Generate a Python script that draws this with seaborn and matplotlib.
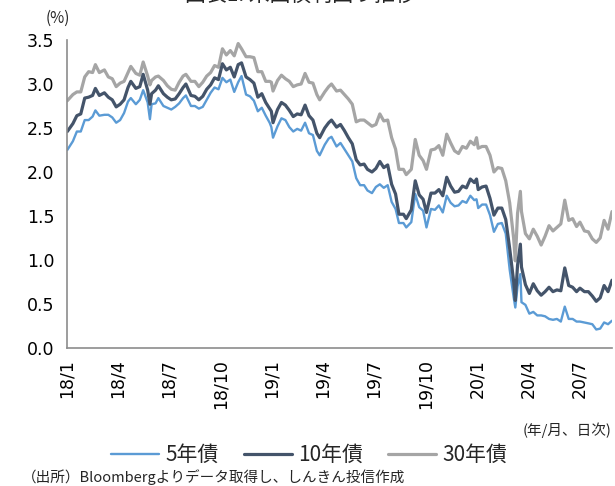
import pandas as pd
import numpy as np
import matplotlib.pyplot as plt
import seaborn as sns

sns.set_theme(style="white")
plt.rcParams['font.family'] = ['DejaVu Sans', 'Noto Sans CJK JP']
jp = ['Noto Sans CJK JP', 'DejaVu Sans']

# weekly readings (%)
dates = [
    # 2018
    "2018-01-02", "2018-01-12", "2018-01-19", "2018-01-26", "2018-02-02", "2018-02-09", "2018-02-16",
    "2018-02-21", "2018-02-28", "2018-03-09", "2018-03-16", "2018-03-23", "2018-03-30", "2018-04-06",
    "2018-04-13", "2018-04-20", "2018-04-25", "2018-05-04", "2018-05-11", "2018-05-17", "2018-05-25",
    "2018-05-29", "2018-06-01", "2018-06-08", "2018-06-13", "2018-06-22", "2018-06-29", "2018-07-06",
    "2018-07-13", "2018-07-20", "2018-07-27", "2018-08-01", "2018-08-10", "2018-08-17", "2018-08-24",
    "2018-08-31", "2018-09-07", "2018-09-14", "2018-09-21", "2018-09-28", "2018-10-05", "2018-10-12",
    "2018-10-19", "2018-10-26", "2018-11-02", "2018-11-08", "2018-11-16", "2018-11-23", "2018-11-30",
    "2018-12-07", "2018-12-14", "2018-12-21", "2018-12-28", "2018-12-31",
    # 2019
    "2019-01-03", "2019-01-11", "2019-01-18", "2019-01-25", "2019-02-01", "2019-02-08", "2019-02-15",
    "2019-02-22", "2019-03-01", "2019-03-08", "2019-03-15", "2019-03-22", "2019-03-27", "2019-04-05",
    "2019-04-12", "2019-04-17", "2019-04-26", "2019-05-03", "2019-05-10", "2019-05-17", "2019-05-24",
    "2019-05-31", "2019-06-07", "2019-06-14", "2019-06-20", "2019-06-28", "2019-07-05", "2019-07-12",
    "2019-07-19", "2019-07-26", "2019-08-02", "2019-08-09", "2019-08-15", "2019-08-23", "2019-08-28",
    "2019-09-06", "2019-09-13", "2019-09-20", "2019-09-27", "2019-10-03", "2019-10-11", "2019-10-18",
    "2019-10-25", "2019-11-01", "2019-11-08", "2019-11-15", "2019-11-22", "2019-11-29", "2019-12-06",
    "2019-12-13", "2019-12-20", "2019-12-27", "2019-12-31",
    # 2020
    "2020-01-03", "2020-01-10", "2020-01-17", "2020-01-24", "2020-01-31", "2020-02-07", "2020-02-14",
    "2020-02-21", "2020-02-28", "2020-03-06", "2020-03-09", "2020-03-13", "2020-03-18", "2020-03-20",
    "2020-03-27", "2020-04-03", "2020-04-10", "2020-04-17", "2020-04-24", "2020-05-01", "2020-05-08",
    "2020-05-15", "2020-05-22", "2020-05-29", "2020-06-05", "2020-06-12", "2020-06-19", "2020-06-26",
    "2020-07-02", "2020-07-10", "2020-07-17", "2020-07-24", "2020-07-31", "2020-08-07", "2020-08-14",
    "2020-08-21", "2020-08-28",
]

y5 = [
    2.25, 2.35, 2.46, 2.46, 2.59, 2.59, 2.63, 2.70, 2.64, 2.65,
    2.65, 2.62, 2.56, 2.59, 2.67, 2.80, 2.84, 2.77, 2.82, 2.93,
    2.79, 2.60, 2.77, 2.78, 2.84, 2.75, 2.73, 2.71, 2.74, 2.78,
    2.84, 2.87, 2.75, 2.75, 2.72, 2.74, 2.82, 2.90, 2.96, 2.94,
    3.07, 3.02, 3.05, 2.91, 3.02, 3.09, 2.88, 2.86, 2.81, 2.69,
    2.73, 2.64, 2.56, 2.51,
    2.39, 2.52, 2.61, 2.59, 2.51, 2.46, 2.49, 2.47, 2.56, 2.44,
    2.42, 2.24, 2.19, 2.31, 2.38, 2.40, 2.29, 2.33, 2.26, 2.19,
    2.12, 1.93, 1.85, 1.85, 1.79, 1.76, 1.83, 1.86, 1.82, 1.85,
    1.66, 1.58, 1.42, 1.42, 1.37, 1.43, 1.75, 1.60, 1.56, 1.37,
    1.58, 1.57, 1.62, 1.54, 1.73, 1.65, 1.61, 1.62, 1.67, 1.65,
    1.73, 1.68, 1.69,
    1.59, 1.63, 1.63, 1.51, 1.32, 1.41, 1.42, 1.30, 0.89, 0.58,
    0.46, 0.70, 0.84, 0.52, 0.49, 0.39, 0.41, 0.37, 0.37, 0.36,
    0.33, 0.32, 0.33, 0.30, 0.47, 0.33, 0.33, 0.30, 0.30, 0.29,
    0.28, 0.27, 0.21, 0.22, 0.29, 0.27, 0.31,
]

y10 = [
    2.46, 2.55, 2.64, 2.66, 2.84, 2.85, 2.87, 2.95, 2.87, 2.90,
    2.85, 2.82, 2.74, 2.77, 2.82, 2.96, 3.03, 2.95, 2.97, 3.11,
    2.93, 2.77, 2.89, 2.93, 2.98, 2.89, 2.85, 2.82, 2.83, 2.89,
    2.96, 3.00, 2.87, 2.86, 2.82, 2.86, 2.94, 2.99, 3.07, 3.05,
    3.23, 3.16, 3.19, 3.08, 3.22, 3.24, 3.08, 3.05, 3.01, 2.85,
    2.89, 2.79, 2.72, 2.69,
    2.56, 2.71, 2.79, 2.76, 2.70, 2.63, 2.66, 2.65, 2.76, 2.64,
    2.59, 2.44, 2.39, 2.50, 2.56, 2.59, 2.51, 2.54, 2.47, 2.39,
    2.32, 2.14, 2.08, 2.09, 2.03, 2.00, 2.04, 2.12, 2.05, 2.08,
    1.86, 1.75, 1.52, 1.52, 1.47, 1.57, 1.90, 1.74, 1.69, 1.54,
    1.76, 1.76, 1.80, 1.73, 1.94, 1.84, 1.77, 1.78, 1.84, 1.82,
    1.92, 1.88, 1.92,
    1.80, 1.83, 1.84, 1.70, 1.51, 1.59, 1.59, 1.46, 1.13, 0.76,
    0.54, 0.94, 1.18, 0.92, 0.72, 0.62, 0.73, 0.65, 0.60, 0.64,
    0.69, 0.64, 0.66, 0.65, 0.91, 0.71, 0.69, 0.64, 0.68, 0.64,
    0.64, 0.59, 0.53, 0.57, 0.71, 0.64, 0.77,
]

y30 = [
    2.81, 2.88, 2.91, 2.91, 3.08, 3.14, 3.13, 3.22, 3.13, 3.16,
    3.08, 3.06, 2.97, 3.01, 3.03, 3.13, 3.20, 3.12, 3.10, 3.25,
    3.09, 2.99, 3.04, 3.08, 3.09, 3.04, 2.98, 2.94, 2.93, 3.02,
    3.09, 3.11, 3.03, 3.03, 2.97, 3.02, 3.09, 3.13, 3.21, 3.19,
    3.40, 3.33, 3.38, 3.32, 3.46, 3.40, 3.31, 3.31, 3.30, 3.14,
    3.14, 3.03, 3.03, 3.02,
    2.92, 3.04, 3.10, 3.06, 3.03, 2.97, 2.99, 3.00, 3.12, 3.02,
    3.01, 2.88, 2.82, 2.91, 2.97, 3.00, 2.92, 2.93, 2.88, 2.83,
    2.77, 2.57, 2.59, 2.59, 2.56, 2.52, 2.54, 2.66, 2.58, 2.59,
    2.39, 2.26, 2.03, 2.03, 1.97, 2.03, 2.37, 2.19, 2.13, 2.03,
    2.25, 2.26, 2.30, 2.19, 2.43, 2.33, 2.24, 2.21, 2.29, 2.27,
    2.35, 2.31, 2.39,
    2.27, 2.29, 2.29, 2.19, 2.00, 2.05, 2.04, 1.90, 1.65, 1.25,
    0.99, 1.53, 1.78, 1.55, 1.30, 1.24, 1.35, 1.27, 1.17, 1.27,
    1.39, 1.33, 1.37, 1.41, 1.68, 1.45, 1.47, 1.38, 1.43, 1.33,
    1.32, 1.24, 1.20, 1.25, 1.45, 1.35, 1.55,
]

series_names = ["5年債", "10年債", "30年債"]
tick_dates = ["2018-01-01", "2018-04-01", "2018-07-01", "2018-10-01", "2019-01-01", "2019-04-01",
              "2019-07-01", "2019-10-01", "2020-01-01", "2020-04-01", "2020-07-01"]
tick_labels = ["18/1", "18/4", "18/7", "18/10", "19/1", "19/4", "19/7", "19/10", "20/1", "20/4", "20/7"]
y_ticks = [0.0, 0.5, 1.0, 1.5, 2.0, 2.5, 3.0, 3.5]

df = pd.DataFrame({"date": pd.to_datetime(dates), "5年債": y5, "10年債": y10, "30年債": y30})
long_df = df.melt(id_vars="date", var_name="series", value_name="yield")

colors = {"5年債": "#5b9bd5", "10年債": "#44546a", "30年債": "#a5a5a5"}
widths = {"5年債": 1.7, "10年債": 2.3, "30年債": 2.3}

fig = plt.figure(figsize=(6.15, 4.86), dpi=100)
ax = fig.add_axes([0.1085, 0.284, 0.8866, 0.6337])

# draw 30y first, 10y on top
for name in ["30年債", "5年債", "10年債"]:
    sns.lineplot(data=long_df[long_df["series"] == name], x="date", y="yield",
                 color=colors[name], linewidth=widths[name], ax=ax, label=name, legend=False)

ax.set_xlim(pd.Timestamp("2018-01-01"), pd.Timestamp("2020-08-28"))
ax.set_ylim(0, 3.5)
ax.set_yticks(y_ticks)
ax.set_yticklabels(["{:.1f}".format(v) for v in y_ticks], fontsize=12.5)
ax.set_xticks(pd.to_datetime(tick_dates))
ax.set_xticklabels(tick_labels, rotation=90, fontsize=12.5, va="top", ha="center")
ax.set_xlabel("")
ax.set_ylabel("")

for s in ["top", "right"]:
    ax.spines[s].set_visible(False)
for s in ["left", "bottom"]:
    ax.spines[s].set_color("#8c8c8c")
    ax.spines[s].set_linewidth(1.2)
ax.tick_params(axis="both", direction="out", length=5, width=1, color="#8c8c8c", colors="#000000")
ax.tick_params(axis="x", pad=3)
ax.tick_params(axis="y", pad=4)

# legend, order 5 / 10 / 30
handles = [plt.Line2D([], [], color=colors[n], linewidth=widths[n]) for n in series_names]
fig.legend(handles, series_names, loc="center", bbox_to_anchor=(309 / 615, 1 - 455 / 486),
           ncol=3, frameon=False, prop={"family": jp, "size": 15},
           handlelength=2.3, handletextpad=0.3, columnspacing=1.2)

fig.text(58 / 615, 1 - 18 / 486, "(%)", ha="center", va="center", fontsize=11, family=jp)
fig.text(612 / 615, 1 - 430 / 486, "(年/月、日次)", ha="right", va="center", fontsize=10.5, family=jp)
fig.text(22 / 615, 1 - 477 / 486, "（出所）Bloombergよりデータ取得し、しんきん投信作成",
         ha="left", va="center", fontsize=10.5, family=jp)
# title sits mostly above the canvas, as in the source image
fig.text(300 / 615, 1 - 6 / 486, "図表1: 米国債利回り推移", ha="center", va="bottom",
         fontsize=15, family=jp)

fig.savefig("out.png", dpi=100)
